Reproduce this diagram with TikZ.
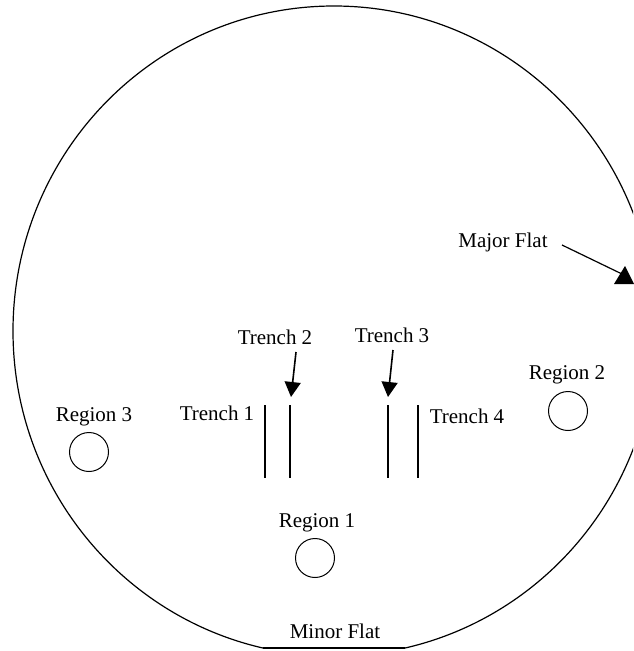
\documentclass[tikz,border=0pt]{standalone}
\usepackage{fontspec}
\setmainfont{Liberation Serif}
\usetikzlibrary{arrows.meta}
\begin{document}
\begin{tikzpicture}[x=1pt,y=-1pt,
  lbl/.style={font=\fontsize{21}{24}\selectfont, inner sep=0pt},
  trenchline/.style={line width=2.6pt},
  outline/.style={line width=1.2pt},
  region/.style={circle, draw, line width=1pt, minimum size=39pt, inner sep=0pt},
  ptr/.style={line width=1.6pt, -{Triangle[width=16pt,length=15pt]}},
  ]
\useasboundingbox (0,0) rectangle (633,651);
% wafer outline
\begin{scope}
  \clip (0,0) rectangle (633,648);
  \draw[outline] (334,331) ellipse [x radius=321pt, y radius=325pt];
\end{scope}
\coordinate (mfL) at (263,648);
\coordinate (mfR) at (405,648);
\draw[outline] (mfL) -- (mfR);
\node[lbl] (minor) at (335,631) {Minor Flat};

% major flat
\node[lbl] (major) at (503,242) {Major Flat};
\coordinate (majS) at (562,245);
\coordinate (majE) at (622,274);
\draw[outline] (majS) -- (majE);
\coordinate (triA) at (625,266);
\coordinate (triB) at (614,284);
\coordinate (triC) at (634,284);
\fill (triA) -- (triB) -- (triC) -- cycle;

% trenches
\coordinate (tr1a) at (265,405); \coordinate (tr1b) at (265,478);
\coordinate (tr2a) at (290,405); \coordinate (tr2b) at (290,478);
\coordinate (tr3a) at (388,405); \coordinate (tr3b) at (388,478);
\coordinate (tr4a) at (418,405); \coordinate (tr4b) at (418,478);
\draw[trenchline] (tr1a) -- (tr1b);
\draw[trenchline] (tr2a) -- (tr2b);
\draw[trenchline] (tr3a) -- (tr3b);
\draw[trenchline] (tr4a) -- (tr4b);

\node[lbl] (t1) at (217,413) {Trench 1};
\node[lbl] (t2) at (275,337) {Trench 2};
\node[lbl] (t3) at (392,335) {Trench 3};
\node[lbl] (t4) at (467,416) {Trench 4};

\coordinate (a2s) at (296,352); \coordinate (a2e) at (291,397);
\coordinate (a3s) at (393,350); \coordinate (a3e) at (388,397);
\draw[ptr] (a2s) -- (a2e);
\draw[ptr] (a3s) -- (a3e);

% regions
\node[lbl] (l1) at (317,523) {Region 1};
\node[region] (r1) at (315,558) {};
\node[lbl] (l2) at (567,375) {Region 2};
\node[region] (r2) at (568,411) {};
\node[lbl] (l3) at (94,417) {Region 3};
\node[region] (r3) at (89,452) {};
\end{tikzpicture}
\end{document}
